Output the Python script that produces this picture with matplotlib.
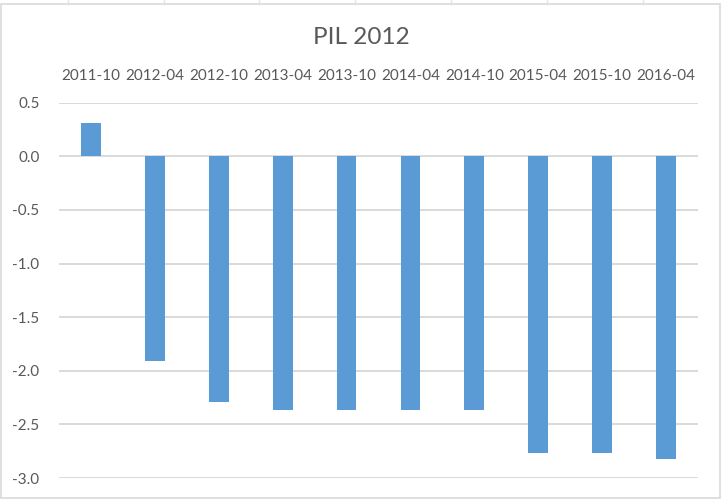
import numpy as np
from matplotlib import pyplot as plt
from matplotlib.patches import Rectangle
from matplotlib.lines import Line2D

# Data
periods = ['2011-10', '2012-04', '2012-10', '2013-04', '2013-10',
           '2014-04', '2014-10', '2015-04', '2015-10', '2016-04']
values = [0.31, -1.91, -2.29, -2.37, -2.37, -2.37, -2.37, -2.77, -2.77, -2.82]
yticks = [0.5, 0.0, -0.5, -1.0, -1.5, -2.0, -2.5, -3.0]

bar_color = '#5B9BD5'
grid_color = '#D9D9D9'
text_color = '#595959'

plt.rcParams['font.family'] = ['Lato', 'DejaVu Sans']

fig = plt.figure(figsize=(7.22, 5.0), dpi=100)
W, H = 722, 500

# spreadsheet cell lines peeking above the chart
for xc in [68, 164, 259, 355, 451, 547, 643]:
    fig.add_artist(Line2D([xc / W, xc / W], [1 - 0 / H, 1 - 4 / H],
                          color='#E3E3E3', lw=1, transform=fig.transFigure))
# chart frame
fig.add_artist(Rectangle((1 / W, 1 - 498 / H), 719 / W, 494 / H, fill=False,
                         edgecolor=grid_color, lw=1.2, transform=fig.transFigure))

ax = fig.add_axes([59 / W, 1 - 478 / H, 639 / W, (478 - 102.7) / H])
x = np.arange(len(periods))
ax.bar(x, values, width=0.31, color=bar_color, zorder=3)

ax.set_xlim(-0.5, len(periods) - 0.5)
ax.set_ylim(-3.0, 0.5)
ax.set_yticks(yticks)
ax.set_yticklabels([f'{v:.1f}' for v in yticks])
ax.yaxis.grid(True, color=grid_color, lw=1.4, zorder=0)
for s in ax.spines.values():
    s.set_visible(False)

ax.xaxis.tick_top()
ax.set_xticks(x)
ax.set_xticklabels(periods)
ax.tick_params(axis='x', length=0, pad=14, labelsize=11, colors=text_color)
ax.tick_params(axis='y', length=0, pad=14, labelsize=11, colors=text_color)

fig.text(0.5, 1 - 38 / H, 'PIL 2012', ha='center', va='center',
         fontsize=17.5, color=text_color)

fig.savefig('out.png', dpi=100)
